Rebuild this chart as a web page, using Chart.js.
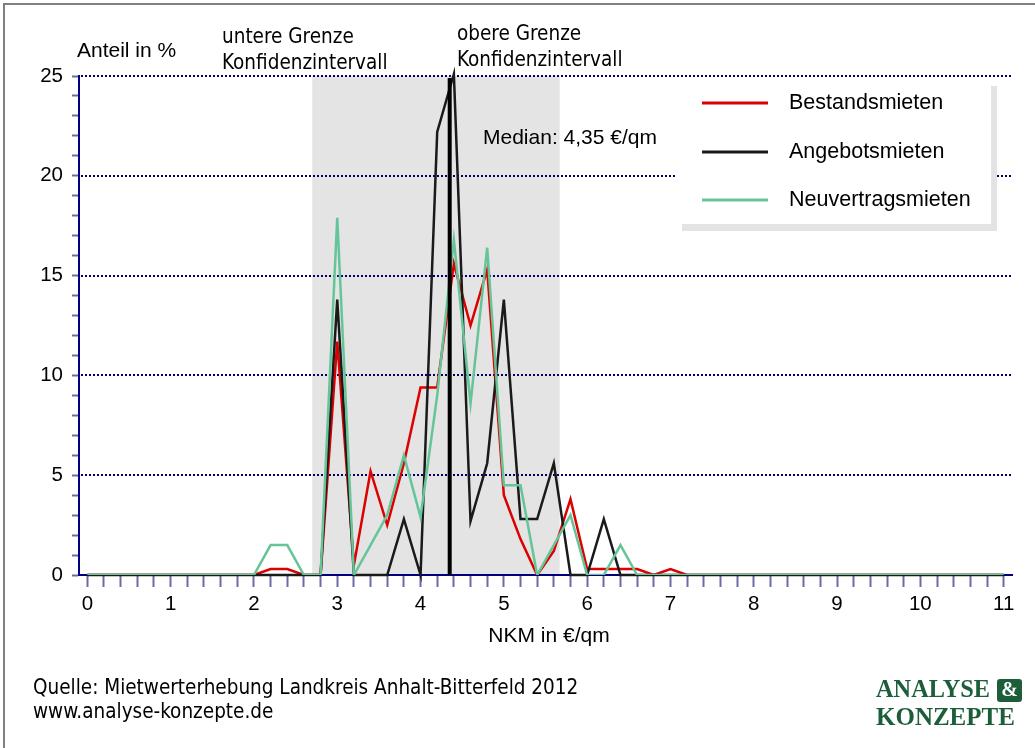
<!DOCTYPE html>
<html>
<head>
<meta charset="utf-8">
<title>NKM Verteilung Anhalt-Bitterfeld</title>
<script src="https://cdn.jsdelivr.net/npm/chart.js@4.4.1/dist/chart.umd.min.js"></script>
<style>
  body { margin: 0; background: #fff; }
  #wrap { position: relative; width: 1035px; height: 748px; }
</style>
</head>
<body>
<div id="wrap"><canvas id="nkmChart"></canvas></div>
<script>
// NKM in €/qm (Klassen in 0,2er Schritten)
const nkmSteps = [
  0, 0.2, 0.4, 0.6, 0.8, 1, 1.2, 1.4, 1.6, 1.8,
  2, 2.2, 2.4, 2.6, 2.8, 3, 3.2, 3.4, 3.6, 3.8,
  4, 4.2, 4.4, 4.6, 4.8, 5, 5.2, 5.4, 5.6, 5.8,
  6, 6.2, 6.4, 6.6, 6.8, 7, 7.2, 7.4, 7.6, 7.8,
  8, 8.2, 8.4, 8.6, 8.8, 9, 9.2, 9.4, 9.6, 9.8,
  10, 10.2, 10.4, 10.6, 10.8, 11
];

// Anteil in %
const bestandsmieten = [
  0, 0, 0, 0, 0, 0, 0, 0, 0, 0,
  0, 0.3, 0.3, 0, 0, 11.7, 0.5, 5.2, 2.5, 5.6,
  9.4, 9.4, 15.6, 12.5, 15.3, 4.0, 1.8, 0, 1.2, 3.8,
  0.3, 0.3, 0.3, 0.3, 0, 0.3, 0, 0, 0, 0,
  0, 0, 0, 0, 0, 0, 0, 0, 0, 0,
  0, 0, 0, 0, 0, 0
];
const angebotsmieten = [
  0, 0, 0, 0, 0, 0, 0, 0, 0, 0,
  0, 0, 0, 0, 0, 13.8, 0, 0, 0, 2.8,
  0, 22.2, 25.1, 2.7, 5.6, 13.8, 2.8, 2.8, 5.6, 0,
  0, 2.8, 0, 0, 0, 0, 0, 0, 0, 0,
  0, 0, 0, 0, 0, 0, 0, 0, 0, 0,
  0, 0, 0, 0, 0, 0
];
const neuvertragsmieten = [
  0, 0, 0, 0, 0, 0, 0, 0, 0, 0,
  0, 1.5, 1.5, 0, 0, 17.9, 0, 1.5, 3.0, 6.0,
  2.9, 9.0, 16.8, 8.6, 16.4, 4.5, 4.5, 0, 1.5, 3.0,
  0, 0, 1.5, 0, 0, 0, 0, 0, 0, 0,
  0, 0, 0, 0, 0, 0, 0, 0, 0, 0,
  0, 0, 0, 0, 0, 0
];

const gridValues = [5, 10, 15, 20, 25];
const konfidenzGrenzen = [2.7, 5.67];
const median = 4.35;

const mainFont = '"Liberation Sans", Arial, sans-serif';
const narrowFont = '"Liberation Sans Narrow", "DejaVu Sans Condensed", "Liberation Sans", sans-serif';
const serifFont = '"Liberation Serif", "Times New Roman", serif';

function toPoints(values) {
  return nkmSteps.map((x, i) => ({ x: x, y: values[i] }));
}

// Hintergrund, Konfidenzintervall und gepunktete Gitterlinien
const chartDecor = {
  id: 'chartDecor',
  beforeDraw(chart) {
    const { ctx, chartArea, scales: { x, y } } = chart;
    ctx.save();

    // Rahmen
    ctx.strokeStyle = '#808080';
    ctx.lineWidth = 2;
    ctx.beginPath();
    ctx.moveTo(4, 748);
    ctx.lineTo(4, 4);
    ctx.lineTo(1035, 4);
    ctx.stroke();

    // Konfidenzintervall
    const x1 = x.getPixelForValue(konfidenzGrenzen[0]);
    const x2 = x.getPixelForValue(konfidenzGrenzen[1]);
    ctx.fillStyle = '#e4e4e4';
    ctx.fillRect(x1, chartArea.top, x2 - x1, chartArea.bottom - chartArea.top);

    // Gitterlinien
    ctx.strokeStyle = '#000066';
    ctx.lineWidth = 2;
    ctx.setLineDash([2, 2]);
    gridValues.forEach(v => {
      const py = Math.round(y.getPixelForValue(v));
      ctx.beginPath();
      ctx.moveTo(chartArea.left + 2, py);
      ctx.lineTo(chartArea.right, py);
      ctx.stroke();
    });
    ctx.restore();
  },
  afterDraw(chart) {
    const { ctx, scales: { x, y } } = chart;
    ctx.save();

    // Median
    const mx = x.getPixelForValue(median);
    ctx.strokeStyle = '#000';
    ctx.lineWidth = 4;
    ctx.beginPath();
    ctx.moveTo(mx, y.getPixelForValue(0));
    ctx.lineTo(mx, y.getPixelForValue(24.9));
    ctx.stroke();

    // Legende
    ctx.fillStyle = '#e3e3e3';
    ctx.fillRect(682, 86, 315, 145);
    ctx.fillStyle = '#fff';
    ctx.fillRect(676, 80, 315, 144);
    ctx.textBaseline = 'middle';
    ctx.textAlign = 'left';
    ctx.font = '21.5px ' + mainFont;
    const rows = [103, 152, 200];
    chart.data.datasets.forEach((ds, i) => {
      ctx.strokeStyle = ds.borderColor;
      ctx.lineWidth = 3;
      ctx.beginPath();
      ctx.moveTo(702, rows[i]);
      ctx.lineTo(768, rows[i]);
      ctx.stroke();
      ctx.fillStyle = '#000';
      ctx.fillText(ds.label, 789, rows[i]);
    });

    // Beschriftungen
    ctx.fillStyle = '#000';
    ctx.font = '21px ' + mainFont;
    ctx.fillText('Anteil in %', 77, 51);
    ctx.fillText('Median: 4,35 €/qm', 483, 138);
    ctx.textAlign = 'center';
    ctx.fillText('NKM in €/qm', 549, 636);

    ctx.textAlign = 'left';
    ctx.font = '20.5px ' + narrowFont;
    ctx.fillText('untere Grenze', 222, 38);
    ctx.fillText('Konfidenzintervall', 222, 64);
    ctx.fillText('obere Grenze', 457, 35);
    ctx.fillText('Konfidenzintervall', 457, 61);

    ctx.fillText('Quelle: Mietwerterhebung Landkreis Anhalt-Bitterfeld 2012', 33, 689);
    ctx.fillText('www.analyse-konzepte.de', 33, 713);

    // Logo
    const green = '#1d5e3a';
    ctx.fillStyle = green;
    ctx.font = 'bold 25px ' + serifFont;
    ctx.fillText('ANALYSE', 876, 691, 114);
    ctx.fillText('KONZEPTE', 876, 719, 146);
    ctx.beginPath();
    ctx.roundRect(997, 679, 25, 23, 3);
    ctx.fill();
    ctx.fillStyle = '#fff';
    ctx.textAlign = 'center';
    ctx.font = 'bold 20px ' + serifFont;
    ctx.fillText('&', 1009.5, 691);

    ctx.restore();
  }
};

const ctx = document.getElementById('nkmChart').getContext('2d');
const chart = new Chart(ctx, {
  type: 'line',
  data: {
    datasets: [
      {
        label: 'Bestandsmieten',
        data: toPoints(bestandsmieten),
        borderColor: '#dd0000',
        borderWidth: 2.5,
        order: 2
      },
      {
        label: 'Angebotsmieten',
        data: toPoints(angebotsmieten),
        borderColor: '#1a1a1a',
        borderWidth: 2.5,
        order: 1,
        clip: false
      },
      {
        label: 'Neuvertragsmieten',
        data: toPoints(neuvertragsmieten),
        borderColor: '#66c499',
        borderWidth: 2.5,
        order: 0
      }
    ]
  },
  options: {
    responsive: true,
    maintainAspectRatio: false,
    animation: false,
    layout: { padding: { left: 0, top: 76, right: 23, bottom: 103 } },
    elements: {
      point: { radius: 0 },
      line: { tension: 0, borderJoinStyle: 'miter' }
    },
    plugins: {
      legend: { display: false },
      tooltip: { enabled: false }
    },
    scales: {
      x: {
        type: 'linear',
        min: -0.1,
        max: 11.1,
        afterBuildTicks: (scale) => { scale.ticks = nkmSteps.map(v => ({ value: v })); },
        afterFit: (scale) => { scale.height = 70; },
        grid: { drawOnChartArea: false, tickLength: 12, tickColor: '#6a6aa8', tickWidth: 2 },
        border: { color: '#000080', width: 2 },
        ticks: {
          autoSkip: false,
          maxRotation: 0,
          padding: 5,
          color: '#000',
          font: { family: mainFont, size: 20.5 },
          callback: (v) => Number.isInteger(v) ? v : ''
        }
      },
      y: {
        min: 0,
        max: 25,
        afterFit: (scale) => { scale.width = 79; },
        grid: { drawOnChartArea: false, tickLength: 7, tickColor: '#6a6aa8', tickWidth: 2 },
        border: { color: '#000080', width: 2 },
        ticks: {
          stepSize: 1,
          autoSkip: false,
          padding: 9,
          color: '#000',
          font: { family: mainFont, size: 20.5 },
          callback: (v) => v % 5 === 0 ? v : ''
        }
      }
    }
  },
  plugins: [chartDecor]
});
</script>
</body>
</html>
